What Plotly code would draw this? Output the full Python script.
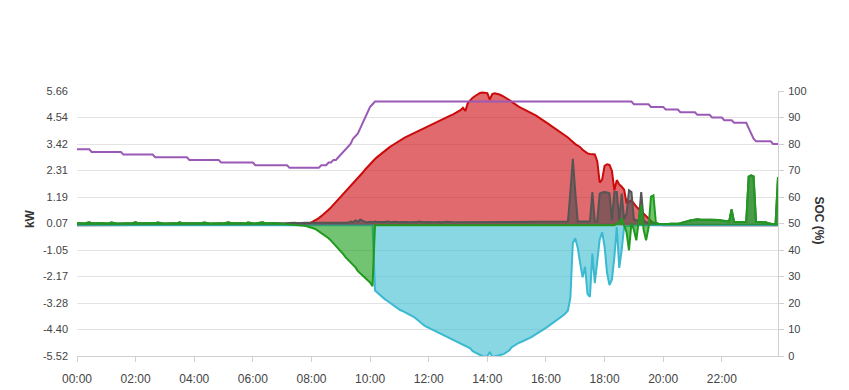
import pandas as pd
import plotly.graph_objects as go

# 5-minute timestamps 00:00 .. 23:55
times = pd.date_range("2024-01-01 00:00", "2024-01-01 23:55", freq="5min")

# PV production (kW), one row per hour (12 x 5-min values)
pv = [
    0,0,0,0,0,0,0,0,0,0,0,0,
    0,0,0,0,0,0,0,0,0,0,0,0,
    0,0,0,0,0,0,0,0,0,0,0,0,
    0,0,0,0,0,0,0,0,0,0,0,0,
    0,0,0,0,0,0,0,0,0,0,0,0,
    0,0,0,0,0,0,0,0,0,0,0,0,
    0,0,0,0,0,0,0,0,0,0,0,0,
    0,0,0,0.01,0.01,0.02,0.02,0.03,0.04,0.05,0.06,0.08,
    0.12,0.17,0.23,0.30,0.38,0.46,0.55,0.65,0.75,0.86,0.97,1.08,
    1.19,1.30,1.41,1.52,1.63,1.75,1.87,1.98,2.10,2.22,2.35,2.47,
    2.58,2.68,2.79,2.88,2.97,3.06,3.14,3.21,3.29,3.36,3.43,3.50,
    3.56,3.62,3.68,3.74,3.79,3.85,3.90,3.96,4.01,4.06,4.11,4.15,
    4.20,4.25,4.30,4.34,4.38,4.43,4.48,4.53,4.58,4.63,4.67,4.72,
    4.77,4.85,4.95,4.82,5.15,5.28,5.38,5.45,5.52,5.58,5.60,5.59,
    5.57,5.30,5.53,5.56,5.54,5.51,5.46,5.41,5.35,5.28,5.20,5.12,
    5.04,4.99,4.94,4.89,4.84,4.80,4.75,4.69,4.62,4.55,4.47,4.40,
    4.33,4.27,4.20,4.13,4.06,3.99,3.92,3.85,3.77,3.70,3.60,3.50,
    3.42,3.36,3.29,3.18,3.10,3.03,3.00,2.99,2.98,2.70,1.80,1.92,
    2.50,2.57,2.54,2.30,1.47,1.90,1.72,1.62,1.50,0.95,0.98,1.05,
    0.90,0.78,0.68,0.58,0.48,0.37,0.27,0.16,0.08,0.04,0.02,0,
    0,0,0,0,0,0,0,0,0,0,0,0,
    0,0,0,0,0,0,0,0,0,0,0,0,
    0,0,0,0,0,0,0,0,0,0,0,0,
    0,0,0,0,0,0,0,0,0,0,0,0,
]

# Grid (kW, negative = export)
grid = [
    0,0,0,0,0,0,0,0,0,0,0,0,
    0,0,0,0,0,0,0,0,0,0,0,0,
    0,0,0,0,0,0,0,0,0,0,0,0,
    0,0,0,0,0,0,0,0,0,0,0,0,
    0,0,0,0,0,0,0,0,0,0,0,0,
    0,0,0,0,0,0,0,0,0,0,0,0,
    0,0,0,0,0,0,0,0,0,0,0,0,
    0,0,0,0,0,0,0,0,0,0,0,0,
    0,0,0,0,0,0,0,0,0,0,0,0,
    0,0,0,0,0,0,0,0,0,0,0,0,
    0,0,-2.76,-2.86,-2.95,-3.04,-3.12,-3.19,-3.27,-3.35,-3.42,-3.49,
    -3.56,-3.61,-3.66,-3.72,-3.77,-3.82,-3.88,-3.96,-4.06,-4.14,-4.22,-4.28,
    -4.33,-4.38,-4.43,-4.48,-4.54,-4.59,-4.63,-4.68,-4.73,-4.78,-4.82,-4.87,
    -4.92,-4.97,-5.03,-5.08,-5.12,-5.20,-5.32,-5.38,-5.44,-5.48,-5.53,-5.55,
    -5.53,-5.35,-5.55,-5.54,-5.52,-5.50,-5.46,-5.42,-5.36,-5.28,-5.15,-5.08,
    -5.00,-4.96,-4.92,-4.88,-4.84,-4.78,-4.72,-4.66,-4.59,-4.52,-4.46,-4.39,
    -4.33,-4.26,-4.19,-4.11,-4.04,-3.97,-3.89,-3.81,-3.72,-3.60,-3.05,-0.75,
    -0.55,-0.95,-1.60,-2.20,-1.75,-2.90,-3.02,-1.20,-2.45,-1.50,-0.60,-0.30,
    -0.90,-2.00,-2.53,-2.30,-1.35,-0.08,-1.80,-1.05,-0.08,-0.05,-0.03,-0.02,
    0,0,0,0,0,0,0,0,0,0,0,0,
    0,0,0,0,0,0,0,0,0,0,0,0,
    0,0,0,0,0,0,0,0,0,0,0,0,
    0,0,0,0,0,0,0,0,0,0,0,0,
    0,0,0,0,0,0,0,0,0,0,0,0,
]

# Load (kW)
load = [
    0.08,0.09,0.08,0.07,0.08,0.12,0.08,0.07,0.08,0.09,0.08,0.08,
    0.08,0.07,0.11,0.08,0.08,0.07,0.08,0.08,0.09,0.08,0.07,0.08,
    0.12,0.08,0.07,0.08,0.08,0.09,0.08,0.07,0.08,0.11,0.08,0.08,
    0.07,0.08,0.08,0.09,0.08,0.07,0.12,0.08,0.08,0.07,0.08,0.08,
    0.09,0.08,0.07,0.08,0.11,0.08,0.08,0.07,0.08,0.08,0.09,0.08,
    0.07,0.08,0.12,0.08,0.07,0.08,0.08,0.09,0.08,0.07,0.11,0.08,
    0.08,0.07,0.08,0.08,0.12,0.08,0.07,0.08,0.09,0.08,0.08,0.07,
    0.08,0.08,0.09,0.08,0.08,0.10,0.09,0.08,0.09,0.10,0.10,0.10,
    0.10,0.10,0.12,0.10,0.10,0.10,0.12,0.10,0.10,0.12,0.10,0.12,
    0.10,0.10,0.12,0.10,0.15,0.12,0.20,0.14,0.24,0.18,0.13,0.12,
    0.14,0.12,0.15,0.13,0.12,0.14,0.13,0.15,0.12,0.12,0.14,0.12,
    0.12,0.13,0.12,0.14,0.12,0.12,0.13,0.12,0.15,0.12,0.12,0.13,
    0.12,0.14,0.12,0.12,0.13,0.12,0.12,0.14,0.12,0.13,0.12,0.12,
    0.13,0.12,0.12,0.14,0.12,0.12,0.13,0.12,0.12,0.14,0.12,0.12,
    0.12,0.13,0.12,0.12,0.14,0.12,0.13,0.12,0.12,0.13,0.12,0.14,
    0.12,0.12,0.13,0.12,0.14,0.12,0.12,0.13,0.12,0.12,0.14,0.12,
    0.13,0.12,0.12,0.14,0.12,0.13,0.12,0.14,0.13,0.15,1.40,2.80,
    1.40,0.15,0.15,0.15,0.15,0.15,0.15,1.40,0.15,0.15,1.33,1.38,
    1.40,1.38,1.35,0.20,1.40,1.40,0.20,1.33,0.25,0.50,1.47,1.40,
    0.25,0.20,0.20,1.40,0.20,0.12,0.10,0.10,0.10,0.10,0.06,0.05,
    0.05,0.05,0.05,0.06,0.05,0.05,0.06,0.08,0.12,0.14,0.17,0.20,
    0.22,0.24,0.25,0.24,0.24,0.25,0.24,0.24,0.23,0.24,0.23,0.22,
    0.20,0.19,0.17,0.16,0.66,0.14,0.13,0.13,0.13,0.13,0.14,2.05,
    2.10,2.06,0.13,0.13,0.13,0.13,0.12,0.08,0.05,0.04,0.04,2.03,
]

# Battery (kW, negative = charging)
battery = [
    0.08,0.09,0.08,0.07,0.08,0.12,0.08,0.07,0.08,0.09,0.08,0.08,
    0.08,0.07,0.11,0.08,0.08,0.07,0.08,0.08,0.09,0.08,0.07,0.08,
    0.12,0.08,0.07,0.08,0.08,0.09,0.08,0.07,0.08,0.11,0.08,0.08,
    0.07,0.08,0.08,0.09,0.08,0.07,0.12,0.08,0.08,0.07,0.08,0.08,
    0.09,0.08,0.07,0.08,0.11,0.08,0.08,0.07,0.08,0.08,0.09,0.08,
    0.07,0.08,0.12,0.08,0.07,0.08,0.08,0.09,0.08,0.07,0.11,0.08,
    0.08,0.07,0.08,0.08,0.12,0.08,0.07,0.08,0.09,0.08,0.08,0.07,
    0.08,0.07,0.06,0.05,0.04,0.02,0.00,-0.01,-0.02,-0.03,-0.05,-0.07,
    -0.10,-0.14,-0.19,-0.26,-0.33,-0.40,-0.47,-0.55,-0.65,-0.76,-0.88,-1.02,
    -1.12,-1.22,-1.36,-1.46,-1.56,-1.66,-1.78,-1.94,-2.04,-2.12,-2.25,-2.32,
    -2.42,-2.58,0,0,0,0,0,0,0,0,0,0,
    0,0,0,0,0,0,0,0,0,0,0,0,
    0,0,0,0,0,0,0,0,0,0,0,0,
    0,0,0,0,0,0,0,0,0,0,0,0,
    0,0,0,0,0,0,0,0,0,0,0,0,
    0,0,0,0,0,0,0,0,0,0,0,0,
    0,0,0,0,0,0,0,0,0,0,0,0,
    0,0,0,0,0,0,0,0,0,0,0,0,
    0,0,0,0,0,0.05,0.10,0.28,0.00,-0.30,-1.06,0.10,
    -0.20,-0.64,0.20,0.84,-0.20,-0.64,-0.10,1.20,1.26,0.10,0.06,0.05,
    0.05,0.05,0.05,0.06,0.05,0.05,0.06,0.08,0.12,0.14,0.17,0.20,
    0.22,0.24,0.25,0.24,0.24,0.25,0.24,0.24,0.23,0.24,0.23,0.22,
    0.20,0.19,0.17,0.16,0.66,0.14,0.13,0.13,0.13,0.13,0.14,2.05,
    2.10,2.06,0.13,0.13,0.13,0.13,0.12,0.08,0.05,0.04,0.04,2.03,
]

# Battery state of charge (%)
soc = [
    78,78,78,78,78,78,77,77,77,77,77,77,
    77,77,77,77,77,77,77,76,76,76,76,76,
    76,76,76,76,76,76,76,76,75,75,75,75,
    75,75,75,75,75,75,75,75,75,75,74,74,
    74,74,74,74,74,74,74,74,74,74,74,73,
    73,73,73,73,73,73,73,73,73,73,73,73,
    73,72,72,72,72,72,72,72,72,72,72,72,
    72,72,72,71,71,71,71,71,71,71,71,71,
    71,71,71,71,72,72,72,73,73,74,74,75,
    76,77,78,79,80,82,83,84,86,88,90,92,
    94,95,96,96,96,96,96,96,96,96,96,96,
    96,96,96,96,96,96,96,96,96,96,96,96,
    96,96,96,96,96,96,96,96,96,96,96,96,
    96,96,96,96,96,96,96,96,96,96,96,96,
    96,96,96,96,96,96,96,96,96,96,96,96,
    96,96,96,96,96,96,96,96,96,96,96,96,
    96,96,96,96,96,96,96,96,96,96,96,96,
    96,96,96,96,96,96,96,96,96,96,96,96,
    96,96,96,96,96,96,96,96,96,96,96,96,
    95,95,95,95,95,95,95,94,94,94,94,94,
    94,93,93,93,93,93,93,92,92,92,92,92,
    92,92,91,91,91,91,91,91,90,90,90,90,
    90,89,89,89,89,88,88,88,88,88,88,86,
    84,82,81,81,81,81,81,81,81,80,80,80,
]

kw_ticks = [-5.52, -4.402, -3.284, -2.166, -1.048, 0.07, 1.188, 2.306, 3.424, 4.542, 5.66]
kw_labels = ["-5.52", "-4.40", "-3.28", "-2.17", "-1.05", "0.07", "1.19", "2.31", "3.42", "4.54", "5.66"]

fig = go.Figure()

def area(y, line_color, fill_color, name):
    fig.add_trace(go.Scatter(
        x=times, y=y, name=name, mode="lines",
        line=dict(color=line_color, width=2),
        fill="tozeroy", fillcolor=fill_color,
        hoverinfo="skip",
    ))

area(pv, "#cc0a0a", "rgba(208,22,28,0.64)", "PV")
area(grid, "#3bb9d1", "rgba(60,188,210,0.6)", "Grid")
area(load, "#555555", "rgba(75,75,75,0.6)", "Load")
area(battery, "#1f9a1f", "rgba(28,160,28,0.62)", "Battery")

fig.add_trace(go.Scatter(
    x=times, y=soc, name="SOC", mode="lines", yaxis="y2",
    line=dict(color="#9b59b6", width=2), hoverinfo="skip",
))

font_fam = "Liberation Sans, Arial, sans-serif"
fig.update_layout(
    width=849, height=390,
    margin=dict(l=77, r=71, t=91, b=34, autoexpand=False),
    paper_bgcolor="white", plot_bgcolor="white",
    showlegend=False,
    font=dict(family=font_fam, color="#444"),
    xaxis=dict(
        type="date",
        range=[times[0], times[-1]],
        tickformat="%H:%M", dtick=7200000, tick0=times[0],
        showgrid=False, zeroline=False,
        showline=True, linecolor="#d0d0d0", linewidth=1,
        ticks="outside", ticklen=5, tickcolor="#d0d0d0",
        tickfont=dict(size=12, color="#444"),
        ticklabelstandoff=7, automargin=False,
    ),
    yaxis=dict(
        range=[kw_ticks[0], kw_ticks[-1]],
        tickvals=kw_ticks, ticktext=kw_labels,
        showgrid=True, gridcolor="#e3e3e3", zeroline=False,
        showline=False, ticks="",
        tickfont=dict(size=11, color="#444"),
        ticklabelstandoff=8, automargin=False,
    ),
    yaxis2=dict(
        overlaying="y", side="right",
        range=[0, 100], dtick=10,
        showgrid=False, zeroline=False,
        showline=True, linecolor="#d0d0d0", linewidth=1,
        ticks="outside", ticklen=5, tickcolor="#d0d0d0",
        tickfont=dict(size=11, color="#444"),
        ticklabelstandoff=2, automargin=False,
    ),
    annotations=[
        dict(text="<b>kW</b>", xref="paper", yref="paper", x=-0.08, y=0.52,
             showarrow=False, textangle=-90, font=dict(size=12, color="#333")),
        dict(text="<b>SOC (%)</b>", xref="paper", yref="paper", x=1.072, y=0.51,
             showarrow=False, textangle=90, font=dict(size=12, color="#333")),
    ],
)

fig.write_html("out.html")
